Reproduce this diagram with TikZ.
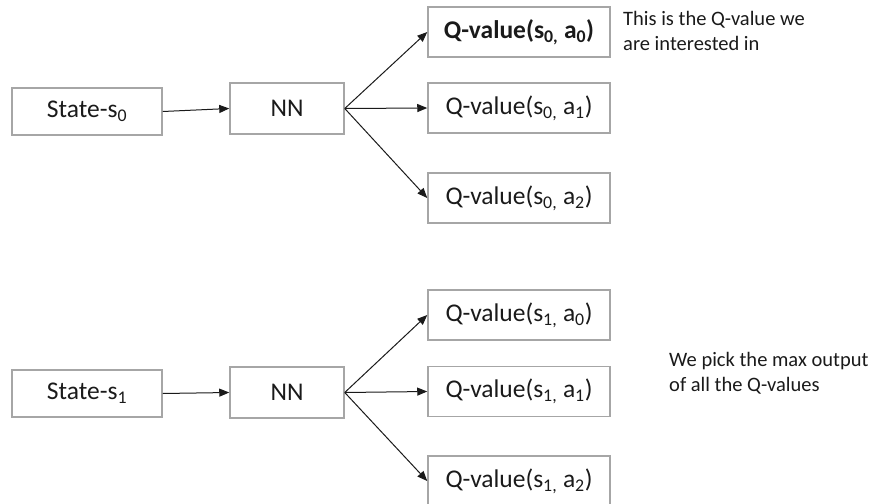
\documentclass[tikz,border=0pt]{standalone}
\usepackage{fontspec}
\setmainfont{Carlito}
\usetikzlibrary{arrows.meta}
\definecolor{boxgray}{HTML}{A6A6A6}
\definecolor{ink}{HTML}{1A1A1A}
\tikzset{
  boxfont/.style={font=\fontsize{25.5}{30}\selectfont},
  qbox/.style={draw=boxgray, line width=1.5pt, minimum width=182pt, minimum height=50pt, inner sep=0pt, boxfont, text=ink},
  sbox/.style={draw=boxgray, line width=1.5pt, minimum width=150pt, minimum height=47pt, inner sep=0pt, boxfont, text=ink},
  nnbox/.style={draw=boxgray, line width=1.5pt, minimum width=114pt, minimum height=51pt, inner sep=0pt, boxfont, text=ink},
  note/.style={inner sep=0pt, align=left, font=\fontsize{20.5}{25}\selectfont, text=ink, anchor=north west},
  conn/.style={draw=ink, line width=1pt, -{Triangle[length=10pt,width=8pt]}}
}
\begin{document}
\begin{tikzpicture}[x=1pt,y=-1pt]
\useasboundingbox (0,0) rectangle (872,503);
% top group
\node[sbox] (s0) at (87,111.5) {State-s\textsubscript{0}};
\node[nnbox] (nn0) at (287,108.5) {NN};
\node[qbox] (q00) at (519,32) {\textbf{Q-value(s\textsubscript{0,} a\textsubscript{0})}};
\node[qbox] (q01) at (519,108) {Q-value(s\textsubscript{0,} a\textsubscript{1})};
\node[qbox] (q02) at (519,198) {Q-value(s\textsubscript{0,} a\textsubscript{2})};
\node[note] (n0) at (623,11) {This is the Q-value we\\are interested in};
\draw[conn] (s0.east) -- (nn0.west);
\draw[conn] (nn0.east) -- (q00.west);
\draw[conn] (nn0.east) -- (q01.west);
\draw[conn] (nn0.east) -- (q02.west);
% bottom group
\node[sbox] (s1) at (87,393.5) {State-s\textsubscript{1}};
\node[nnbox] (nn1) at (287,392.5) {NN};
\node[qbox] (q10) at (519,315) {Q-value(s\textsubscript{1,} a\textsubscript{0})};
\node[qbox] (q11) at (519,391.5) {Q-value(s\textsubscript{1,} a\textsubscript{1})};
\node[qbox] (q12) at (519,481) {Q-value(s\textsubscript{1,} a\textsubscript{2})};
\node[note] (n1) at (669,352) {We pick the max output\\of all the Q-values};
\draw[conn] (s1.east) -- (nn1.west);
\draw[conn] (nn1.east) -- (q10.west);
\draw[conn] (nn1.east) -- (q11.west);
\draw[conn] (nn1.east) -- (q12.west);
\end{tikzpicture}
\end{document}
